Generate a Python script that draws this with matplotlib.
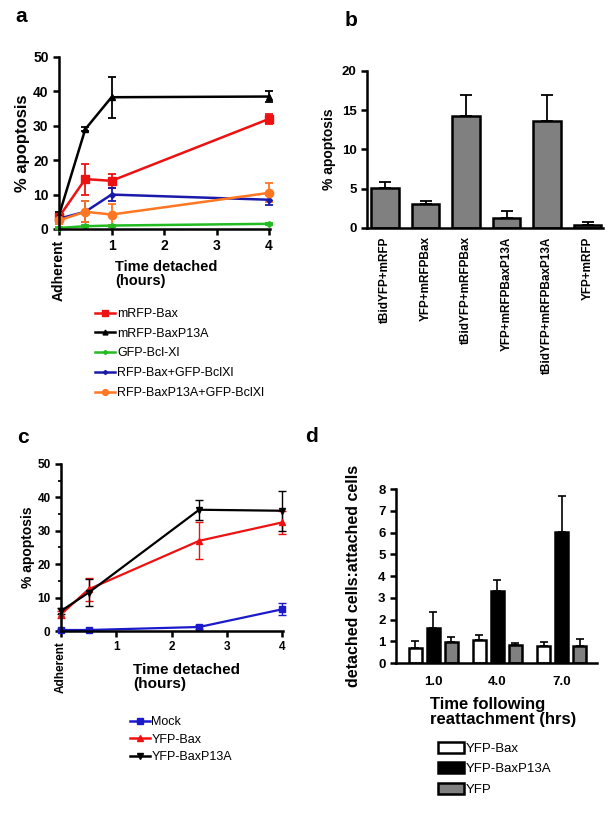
import matplotlib
matplotlib.use("Agg")
import matplotlib.pyplot as plt
import numpy as np
from matplotlib.ticker import MultipleLocator
from matplotlib.lines import Line2D

plt.rcParams['font.family'] = ['Liberation Sans', 'DejaVu Sans']

# ---------- Panel a data ----------
a_x = [0, 0.5, 1, 4]
a_names = ["mRFP-Bax", "mRFP-BaxP13A", "GFP-Bcl-Xl", "RFP-Bax+GFP-BclXl", "RFP-BaxP13A+GFP-BclXl"]
a_vals = {
    "mRFP-Bax": [3.5, 14.5, 14.0, 32.0],
    "mRFP-BaxP13A": [4.0, 29.0, 38.3, 38.5],
    "GFP-Bcl-Xl": [0.3, 0.8, 1.0, 1.5],
    "RFP-Bax+GFP-BclXl": [3.0, 5.0, 10.0, 8.5],
    "RFP-BaxP13A+GFP-BclXl": [2.5, 5.0, 4.2, 10.5],
}
a_errs = {
    "mRFP-Bax": [1.0, 4.5, 2.0, 1.5],
    "mRFP-BaxP13A": [1.0, 0.5, 6.0, 1.5],
    "GFP-Bcl-Xl": [0.2, 0.3, 0.3, 0.3],
    "RFP-Bax+GFP-BclXl": [1.0, 3.0, 2.0, 1.5],
    "RFP-BaxP13A+GFP-BclXl": [1.0, 3.0, 3.0, 2.8],
}
a_colors = ["#ee1111", "#000000", "#22bb22", "#1a1aaa", "#ff7722"]
a_markers = ["s", "^", "D", "D", "o"]
a_msizes = [6, 5, 3, 3, 6]

# ---------- Panel b data ----------
b_cats = ["tBidYFP+mRFP", "YFP+mRFPBax", "tBidYFP+mRFPBax", "YFP+mRFPBaxP13A",
          "tBidYFP+mRFPBaxP13A", "YFP+mRFP"]
b_vals = [5.1, 3.1, 14.2, 1.3, 13.6, 0.4]
b_errs = [0.7, 0.3, 2.8, 0.8, 3.3, 0.3]

# ---------- Panel c data ----------
c_x = [0, 0.5, 2.5, 4]
c_names = ["Mock", "YFP-Bax", "YFP-BaxP13A"]
c_vals = {
    "Mock": [0.3, 0.3, 1.2, 6.5],
    "YFP-Bax": [5.0, 12.5, 27.0, 32.5],
    "YFP-BaxP13A": [6.0, 11.5, 36.3, 36.0],
}
c_errs = {
    "Mock": [0.3, 0.3, 0.5, 1.8],
    "YFP-Bax": [1.0, 3.5, 5.5, 3.5],
    "YFP-BaxP13A": [1.0, 4.0, 3.0, 6.0],
}
c_colors = ["#1a1acc", "#ee1111", "#000000"]
c_markers = ["s", "^", "v"]

# ---------- Panel d data ----------
d_groups = ["1.0", "4.0", "7.0"]
d_names = ["YFP-Bax", "YFP-BaxP13A", "YFP"]
d_vals = {
    "YFP-Bax": [0.7, 1.05, 0.8],
    "YFP-BaxP13A": [1.6, 3.3, 6.05],
    "YFP": [0.95, 0.85, 0.8],
}
d_errs = {
    "YFP-Bax": [0.3, 0.22, 0.18],
    "YFP-BaxP13A": [0.75, 0.5, 1.65],
    "YFP": [0.25, 0.08, 0.3],
}
d_colors = ["#ffffff", "#000000", "#808080"]

fig = plt.figure(figsize=(6.12, 8.14), dpi=100)


def style(ax, lw=1.8):
    for s in ["top", "right"]:
        ax.spines[s].set_visible(False)
    for s in ["left", "bottom"]:
        ax.spines[s].set_linewidth(lw)
    ax.tick_params(width=lw, length=4, direction="out")
    ax.tick_params(which="minor", width=lw * 0.7, length=2.5)


# ----- Panel a -----
ax = fig.add_axes([0.0964, 0.7187, 0.345, 0.2113])
style(ax)
handles_a = []
for n, c, m, ms in zip(a_names, a_colors, a_markers, a_msizes):
    ax.errorbar(a_x, a_vals[n], yerr=a_errs[n], color=c, marker=m, ms=ms, lw=1.8,
                capsize=3, elinewidth=1.3, capthick=1.3, clip_on=False)
    handles_a.append(Line2D([], [], color=c, marker=m, ms=ms * 0.7, lw=1.8))
ax.set_xlim(0, 4.02)
ax.set_ylim(0, 50)
ax.set_xticks([0, 1, 2, 3, 4])
ax.set_xticklabels(["Adherent", "1", "2", "3", "4"], fontsize=10, fontweight="bold")
ax.get_xticklabels()[0].set_rotation(90)
ax.set_yticks([0, 10, 20, 30, 40, 50])
ax.set_yticklabels(["0", "10", "20", "30", "40", "50"], fontsize=10, fontweight="bold")
ax.set_ylabel("% apoptosis", fontsize=12, fontweight="bold", labelpad=2)
fig.text(115 / 612, 1 - 274 / 814, "Time detached\n(hours)", fontsize=10.5, fontweight="bold",
         va="center", ha="left", linespacing=1.0)
fig.legend(handles=handles_a, labels=a_names, loc="upper left",
           bbox_to_anchor=(95 / 612, 1 - 308 / 814), frameon=False, fontsize=9,
           handlelength=1.6, handletextpad=0.2, labelspacing=0.62,
           borderaxespad=0, borderpad=0)
fig.text(15 / 612, 1 - 17 / 814, "a", fontsize=15, fontweight="bold", va="center")

# ----- Panel b -----
ax = fig.add_axes([0.5997, 0.72, 0.385, 0.1928])
style(ax)
xb = np.arange(len(b_cats))
ax.bar(xb, b_vals, width=0.68, color="#808080", edgecolor="black", linewidth=1.8, zorder=2)
ax.errorbar(xb, b_vals, yerr=[np.zeros(len(b_vals)), b_errs], fmt="none", ecolor="black",
            elinewidth=1.3, capsize=4, capthick=1.3, zorder=1)
ax.set_xlim(-0.45, 5.37)
ax.set_ylim(0, 20)
ax.set_yticks([0, 5, 10, 15, 20])
ax.set_yticklabels(["0", "5", "10", "15", "20"], fontsize=9.5, fontweight="bold")
ax.set_xticks(xb)
ax.set_xticklabels(b_cats, rotation=90, fontsize=8.5, fontweight="bold")
ax.tick_params(axis="x", length=0, pad=6)
ax.set_ylabel("% apoptosis", fontsize=10, fontweight="bold", labelpad=4)
fig.text(345 / 612, 1 - 20 / 814, "b", fontsize=15, fontweight="bold", va="center")

# ----- Panel c -----
ax = fig.add_axes([0.0997, 0.2248, 0.363, 0.2052])
style(ax)
handles_c = []
for n, c, m in zip(c_names, c_colors, c_markers):
    ax.errorbar(c_x, c_vals[n], yerr=c_errs[n], color=c, marker=m, ms=5, lw=1.6,
                capsize=3, elinewidth=1.0, capthick=1.0, clip_on=False)
    handles_c.append(Line2D([], [], color=c, marker=m, ms=4.5, lw=1.8))
ax.set_xlim(0, 4.02)
ax.set_ylim(0, 50)
ax.set_xticks([0, 1, 2, 3, 4])
ax.set_xticklabels(["Adherent", "1", "2", "3", "4"], fontsize=8.5, fontweight="bold")
ax.get_xticklabels()[0].set_rotation(90)
ax.set_yticks([0, 10, 20, 30, 40, 50])
ax.set_yticklabels(["0", "10", "20", "30", "40", "50"], fontsize=8.5, fontweight="bold")
ax.yaxis.set_minor_locator(MultipleLocator(5))
ax.set_ylabel("% apoptosis", fontsize=10, fontweight="bold", labelpad=2)
fig.text(133 / 612, 1 - 677 / 814, "Time detached\n(hours)", fontsize=11, fontweight="bold",
         va="center", ha="left", linespacing=1.0)
fig.legend(handles=handles_c, labels=c_names, loc="upper left",
           bbox_to_anchor=(130 / 612, 1 - 716 / 814), frameon=False, fontsize=9,
           handlelength=1.6, handletextpad=0.1, labelspacing=0.45,
           borderaxespad=0, borderpad=0)
fig.text(17 / 612, 1 - 438 / 814, "c", fontsize=15, fontweight="bold", va="center")

# ----- Panel d -----
ax = fig.add_axes([0.647, 0.1855, 0.3285, 0.2135])
style(ax)
xg = np.arange(len(d_groups))
w = 0.2
bars = []
for i, (n, c) in enumerate(zip(d_names, d_colors)):
    pos = xg + (i - 1) * 0.28
    b = ax.bar(pos, d_vals[n], width=w, color=c, edgecolor="black", linewidth=1.8, zorder=2,
               label=n)
    ax.errorbar(pos, d_vals[n], yerr=[np.zeros(3), d_errs[n]], fmt="none", ecolor="black",
                elinewidth=1.2, capsize=3, capthick=1.2, zorder=1)
    bars.append(b)
ax.set_xlim(-0.58, 2.55)
ax.set_ylim(0, 8)
ax.set_yticks(range(0, 9))
ax.set_yticklabels([str(v) for v in range(0, 9)], fontsize=9.5, fontweight="bold")
ax.set_xticks(xg)
ax.set_xticklabels(d_groups, fontsize=9.5, fontweight="bold")
ax.tick_params(axis="x", length=0, pad=9)
ax.set_ylabel("detached cells:attached cells", fontsize=11.5, fontweight="bold", labelpad=12)
fig.text(430 / 612, 1 - 712 / 814, "Time following\nreattachment (hrs)", fontsize=12,
         fontweight="bold", va="center", ha="left", linespacing=1.0)
fig.legend(handles=bars, labels=d_names, loc="upper left",
           bbox_to_anchor=(438 / 612, 1 - 742 / 814), frameon=False, fontsize=9.5,
           handlelength=2.0, handleheight=0.9, handletextpad=0.1, labelspacing=0.55,
           borderaxespad=0, borderpad=0)
fig.text(305 / 612, 1 - 436 / 814, "d", fontsize=15, fontweight="bold", va="center")

fig.savefig("out.png", dpi=100)
